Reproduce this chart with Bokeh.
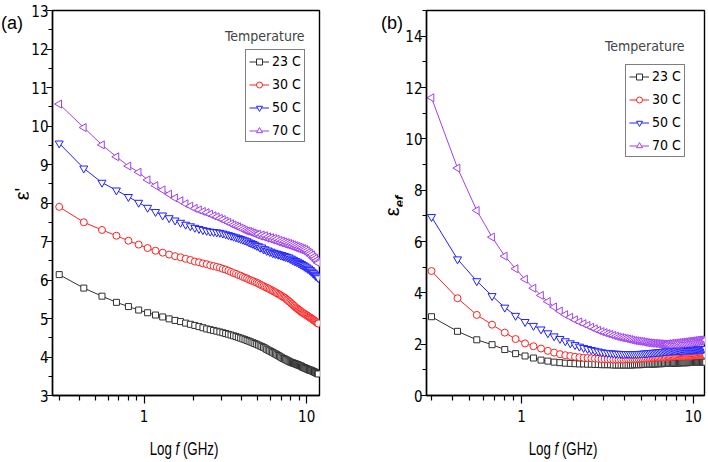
import math
from bokeh.plotting import figure
from bokeh.models import (Range1d, FixedTicker, PrintfTickFormatter, Label,
                          Legend, LegendItem, ColumnDataSource, Div)
from bokeh.layouts import row, column
from bokeh.embed import file_html
from bokeh.resources import INLINE

# ---------------- data ----------------
freq_ghz = [0.3, 0.425, 0.55, 0.675, 0.8, 0.925, 1.05, 1.175, 1.3, 1.425,
            1.55, 1.675, 1.8, 1.925, 2.05, 2.175, 2.3, 2.425, 2.55, 2.675,
            2.8, 2.925,
            3.05, 3.175, 3.3, 3.425, 3.55, 3.675, 3.8, 3.925, 4.05, 4.175,
            4.3, 4.425, 4.55, 4.675, 4.8, 4.925, 5.05, 5.175, 5.3, 5.425,
            5.55, 5.675, 5.8, 5.925, 6.05, 6.175, 6.3, 6.425, 6.55, 6.675,
            6.8, 6.925, 7.05, 7.175, 7.3, 7.425, 7.55, 7.675, 7.8, 7.925,
            8.05, 8.175, 8.3, 8.425, 8.55, 8.675, 8.8, 8.925, 9.05, 9.175,
            9.3, 9.425, 9.55, 9.675, 9.8, 9.925, 10.05, 10.175, 10.3, 10.425,
            10.55, 10.675, 10.8, 10.925, 11.05, 11.175, 11.3, 11.425, 11.55, 11.675,
            11.8]

temperatures = ["23 C", "30 C", "50 C", "70 C"]

# panel (a): epsilon'
eps_real_23 = [6.14, 5.79, 5.58, 5.42, 5.31, 5.22, 5.15, 5.09, 5.04, 4.99,
               4.95, 4.92, 4.88, 4.85, 4.82, 4.79, 4.76, 4.73, 4.71, 4.69,
               4.67, 4.65,
               4.63, 4.61, 4.59, 4.57, 4.55, 4.53, 4.51, 4.49, 4.47, 4.45,
               4.43, 4.41, 4.39, 4.37, 4.35, 4.33, 4.31, 4.29, 4.27, 4.25,
               4.23, 4.20, 4.18, 4.16, 4.14, 4.12, 4.10, 4.08, 4.06, 4.04,
               4.02, 4.00, 3.98, 3.96, 3.95, 3.93, 3.92, 3.90, 3.89, 3.87,
               3.86, 3.85, 3.84, 3.83, 3.82, 3.81, 3.80, 3.79, 3.78, 3.77,
               3.76, 3.74, 3.73, 3.72, 3.71, 3.70, 3.69, 3.68, 3.67, 3.66,
               3.66, 3.65, 3.64, 3.63, 3.62, 3.61, 3.60, 3.59, 3.58, 3.57,
               3.56]
eps_real_30 = [7.90, 7.50, 7.30, 7.15, 7.02, 6.92, 6.83, 6.76, 6.71, 6.66,
               6.62, 6.59, 6.55, 6.52, 6.48, 6.46, 6.43, 6.41, 6.38, 6.36,
               6.34, 6.32,
               6.29, 6.27, 6.24, 6.21, 6.18, 6.16, 6.13, 6.11, 6.08, 6.06,
               6.04, 6.01, 5.99, 5.97, 5.95, 5.93, 5.91, 5.88, 5.86, 5.84,
               5.82, 5.80, 5.78, 5.76, 5.74, 5.72, 5.70, 5.68, 5.66, 5.64,
               5.62, 5.60, 5.58, 5.56, 5.54, 5.52, 5.49, 5.47, 5.44, 5.42,
               5.39, 5.37, 5.34, 5.32, 5.29, 5.27, 5.25, 5.23, 5.21, 5.19,
               5.17, 5.15, 5.14, 5.12, 5.11, 5.09, 5.08, 5.06, 5.05, 5.03,
               5.02, 5.00, 4.99, 4.97, 4.96, 4.94, 4.93, 4.91, 4.90, 4.88,
               4.87]
eps_real_50 = [9.55, 8.90, 8.53, 8.33, 8.16, 8.01, 7.88, 7.77, 7.68, 7.61,
               7.55, 7.49, 7.44, 7.40, 7.36, 7.33, 7.30, 7.28, 7.26, 7.25,
               7.24, 7.23,
               7.21, 7.19, 7.17, 7.15, 7.13, 7.11, 7.09, 7.07, 7.05, 7.03,
               7.01, 6.98, 6.96, 6.94, 6.92, 6.89, 6.88, 6.84, 6.85, 6.80,
               6.80, 6.76, 6.77, 6.73, 6.74, 6.70, 6.71, 6.68, 6.69, 6.66,
               6.67, 6.64, 6.65, 6.62, 6.63, 6.60, 6.61, 6.58, 6.59, 6.55,
               6.56, 6.52, 6.53, 6.49, 6.50, 6.47, 6.48, 6.44, 6.45, 6.41,
               6.42, 6.38, 6.39, 6.35, 6.36, 6.32, 6.33, 6.29, 6.30, 6.26,
               6.26, 6.22, 6.22, 6.18, 6.18, 6.14, 6.14, 6.10, 6.10, 6.07,
               6.05]
eps_real_70 = [10.57, 9.96, 9.51, 9.20, 8.96, 8.80, 8.60, 8.45, 8.34, 8.23,
               8.13, 8.06, 7.98, 7.92, 7.86, 7.82, 7.78, 7.75, 7.71, 7.67,
               7.64, 7.60,
               7.57, 7.53, 7.50, 7.46, 7.43, 7.40, 7.38, 7.35, 7.32, 7.29,
               7.27, 7.26, 7.24, 7.22, 7.20, 7.18, 7.19, 7.14, 7.17, 7.12,
               7.15, 7.09, 7.12, 7.07, 7.10, 7.04, 7.08, 7.02, 7.06, 6.99,
               7.03, 6.97, 7.01, 6.95, 6.99, 6.93, 6.97, 6.91, 6.95, 6.89,
               6.93, 6.87, 6.91, 6.85, 6.89, 6.83, 6.87, 6.81, 6.85, 6.79,
               6.83, 6.77, 6.81, 6.75, 6.79, 6.73, 6.76, 6.70, 6.72, 6.66,
               6.69, 6.62, 6.65, 6.58, 6.60, 6.54, 6.56, 6.50, 6.51, 6.46,
               6.44]

# panel (b): epsilon_ef
eps_ef_23 = [3.07, 2.50, 2.17, 1.98, 1.79, 1.63, 1.54, 1.46, 1.38, 1.34,
             1.30, 1.28, 1.26, 1.25, 1.24, 1.23, 1.23, 1.22, 1.22, 1.21,
             1.21, 1.20,
             1.20, 1.20, 1.20, 1.19, 1.19, 1.19, 1.19, 1.19, 1.19, 1.19,
             1.19, 1.19, 1.20, 1.20, 1.20, 1.20, 1.21, 1.21, 1.21, 1.22,
             1.22, 1.22, 1.23, 1.23, 1.23, 1.24, 1.24, 1.24, 1.24, 1.25,
             1.25, 1.25, 1.25, 1.26, 1.26, 1.26, 1.26, 1.27, 1.27, 1.27,
             1.27, 1.27, 1.27, 1.28, 1.28, 1.28, 1.28, 1.28, 1.28, 1.28,
             1.28, 1.29, 1.29, 1.29, 1.29, 1.29, 1.29, 1.29, 1.29, 1.30,
             1.30, 1.30, 1.30, 1.30, 1.30, 1.30, 1.30, 1.30, 1.30, 1.30,
             1.30]
eps_ef_30 = [4.85, 3.79, 3.14, 2.76, 2.45, 2.20, 2.03, 1.92, 1.83, 1.74,
             1.67, 1.61, 1.57, 1.54, 1.51, 1.49, 1.47, 1.46, 1.45, 1.44,
             1.43, 1.42,
             1.42, 1.41, 1.41, 1.40, 1.40, 1.40, 1.40, 1.40, 1.41, 1.41,
             1.41, 1.42, 1.42, 1.42, 1.43, 1.43, 1.44, 1.44, 1.45, 1.45,
             1.46, 1.46, 1.47, 1.47, 1.48, 1.48, 1.49, 1.49, 1.49, 1.50,
             1.50, 1.50, 1.51, 1.51, 1.51, 1.51, 1.52, 1.52, 1.52, 1.53,
             1.53, 1.53, 1.53, 1.54, 1.54, 1.54, 1.54, 1.54, 1.54, 1.55,
             1.55, 1.55, 1.55, 1.55, 1.55, 1.56, 1.56, 1.56, 1.56, 1.57,
             1.57, 1.57, 1.57, 1.58, 1.58, 1.58, 1.58, 1.59, 1.59, 1.59,
             1.59]
eps_ef_50 = [6.96, 5.31, 4.46, 3.88, 3.43, 3.11, 2.87, 2.72, 2.58, 2.43,
             2.31, 2.21, 2.12, 2.04, 1.97, 1.91, 1.86, 1.82, 1.78, 1.75,
             1.72, 1.69,
             1.67, 1.66, 1.65, 1.64, 1.63, 1.63, 1.62, 1.62, 1.62, 1.62,
             1.62, 1.62, 1.62, 1.62, 1.62, 1.63, 1.63, 1.64, 1.64, 1.65,
             1.66, 1.66, 1.67, 1.67, 1.68, 1.68, 1.69, 1.70, 1.70, 1.71,
             1.72, 1.72, 1.73, 1.73, 1.74, 1.74, 1.75, 1.75, 1.75, 1.75,
             1.76, 1.76, 1.76, 1.76, 1.77, 1.77, 1.77, 1.77, 1.77, 1.78,
             1.78, 1.78, 1.78, 1.78, 1.78, 1.79, 1.79, 1.79, 1.79, 1.80,
             1.80, 1.80, 1.80, 1.81, 1.81, 1.81, 1.81, 1.82, 1.82, 1.82,
             1.82]
eps_ef_70 = [11.60, 8.86, 7.21, 6.17, 5.43, 4.94, 4.53, 4.18, 3.90, 3.66,
             3.45, 3.29, 3.15, 3.05, 2.95, 2.87, 2.80, 2.73, 2.66, 2.60,
             2.54, 2.49,
             2.45, 2.41, 2.38, 2.34, 2.31, 2.28, 2.26, 2.24, 2.22, 2.20,
             2.18, 2.16, 2.14, 2.13, 2.12, 2.11, 2.10, 2.08, 2.07, 2.06,
             2.05, 2.04, 2.04, 2.03, 2.03, 2.02, 2.02, 2.01, 2.01, 2.00,
             2.00, 2.00, 2.00, 2.02, 1.99, 2.03, 2.00, 2.04, 2.00, 2.05,
             2.01, 2.06, 2.02, 2.07, 2.02, 2.08, 2.03, 2.09, 2.04, 2.10,
             2.05, 2.11, 2.06, 2.12, 2.07, 2.13, 2.08, 2.14, 2.09, 2.15,
             2.10, 2.16, 2.11, 2.16, 2.12, 2.17, 2.13, 2.17, 2.14, 2.17,
             2.16]

x_major = [1, 10]
x_minor = [0.3, 0.4, 0.5, 0.6, 0.7, 0.8, 0.9, 2, 3, 4, 5, 6, 7, 8, 9]
ya_major = [3, 4, 5, 6, 7, 8, 9, 10, 11, 12, 13]
ya_minor = [3.5, 4.5, 5.5, 6.5, 7.5, 8.5, 9.5, 10.5, 11.5, 12.5]
yb_major = [0, 2, 4, 6, 8, 10, 12, 14]
yb_minor = [1, 3, 5, 7, 9, 11, 13, 15]

# ---------------- style ----------------
NARROW = ("Liberation Sans Narrow, Arial Narrow, DejaVu Sans Condensed, "
          "Roboto Condensed, Liberation Sans, sans-serif")
CSS_FONT = "'Liberation Sans', Arial, sans-serif"
colors = ["#303030", "#ff2020", "#2020ff", "#a040f0"]
markers = ["square", "circle", "inverted_triangle", "triangle"]
msizes = [6, 7, 8, 8]
angles_deg = [0, 0, 0, 90]   # 70 C: triangle pointing left
H_TOP = 430


def build(series, xr, yr, ymaj, ymin, width, mbl, mbr, mbt, mbb,
          leg_loc, title_xy):
    p = figure(width=width, height=H_TOP, x_axis_type="log",
               x_range=Range1d(*xr), y_range=Range1d(*yr),
               output_backend="svg", toolbar_location=None,
               min_border_left=mbl, min_border_right=mbr,
               min_border_top=mbt, min_border_bottom=mbb)
    p.grid.visible = False
    p.outline_line_color = "black"
    p.outline_line_width = 1.4
    p.background_fill_color = "white"
    p.border_fill_color = "white"

    xa = p.xaxis[0]
    xa.ticker = FixedTicker(ticks=x_major, minor_ticks=x_minor)
    xa.formatter = PrintfTickFormatter(format="%d")
    xa.major_tick_out = 8
    xa.major_tick_in = 0
    xa.minor_tick_out = 5
    xa.minor_tick_in = 0
    xa.major_label_standoff = 6

    ya = p.yaxis[0]
    ya.ticker = FixedTicker(ticks=ymaj, minor_ticks=ymin)
    ya.major_tick_out = 6
    ya.major_tick_in = 0
    ya.minor_tick_out = 4
    ya.minor_tick_in = 0
    ya.major_label_standoff = -2

    for ax in (xa, ya):
        ax.axis_line_width = 1.4
        ax.axis_line_color = "black"
        ax.major_tick_line_color = "black"
        ax.minor_tick_line_color = "black"
        ax.major_tick_line_width = 1.2
        ax.minor_tick_line_width = 1.2
        ax.major_label_text_font = NARROW
        ax.major_label_text_font_size = "15px"
        ax.major_label_text_color = "black"

    items = []
    for vals, name, col, mk, ms, ang in zip(series, temperatures, colors,
                                            markers, msizes, angles_deg):
        src = ColumnDataSource(dict(f=freq_ghz, v=vals,
                                    a=[ang] * len(freq_ghz)))
        lr = p.line("f", "v", source=src, line_color=col, line_width=1)
        sr = p.scatter("f", "v", source=src, marker=mk, size=ms,
                       angle="a", angle_units="deg",
                       line_color=col, fill_color="white", line_width=1)
        items.append(LegendItem(label=name, renderers=[lr, sr]))

    leg = Legend(items=items, location=leg_loc, orientation="vertical",
                 glyph_width=20, glyph_height=15, label_height=15,
                 label_standoff=3, spacing=7, padding=3, margin=0,
                 label_text_font=NARROW, label_text_font_size="14px",
                 label_text_color="black",
                 border_line_color="black", border_line_width=1,
                 background_fill_color="white", background_fill_alpha=1)
    p.add_layout(leg)

    p.add_layout(Label(x=title_xy[0], y=title_xy[1], x_units="screen",
                       y_units="screen", text="Temperature",
                       text_font=NARROW, text_font_size="14px",
                       text_baseline="middle", text_align="right"))
    return p


pa = build([eps_real_23, eps_real_30, eps_real_50, eps_real_70],
           (0.2728, 12.0), (3, 13), ya_major, ya_minor,
           350, 21, 59, 8, 35,
           (193, 253), (252, 360))

pb = build([eps_ef_23, eps_ef_30, eps_ef_50, eps_ef_70],
           (0.2805, 11.61), (0, 15), yb_major, yb_minor,
           306, 20, 4, 10, 35,
           (199, 238), (258, 350))

span = ("position:absolute;white-space:nowrap;line-height:1;color:black;")

div_a = Div(width=28, height=H_TOP, margin=(0, 0, 0, 0), text=(
    '<div style="position:relative;width:28px;height:%dpx;">' % H_TOP +
    '<span style="%sleft:1px;top:14px;font-size:18px;font-family:%s;">(a)</span>'
    % (span, CSS_FONT) +
    '<span style="%sleft:22px;top:194px;transform:translate(-50%%,-50%%) '
    'rotate(-90deg);font-size:20px;font-family:%s;">&epsilon;\'</span>'
    % (span, CSS_FONT) +
    '</div>'))

div_b = Div(width=24, height=H_TOP, margin=(0, 0, 0, 0), text=(
    '<div style="position:relative;width:24px;height:%dpx;">' % H_TOP +
    '<span style="%sleft:3px;top:14px;font-size:18px;font-family:%s;">(b)</span>'
    % (span, CSS_FONT) +
    '<span style="%sleft:16px;top:206px;transform:translate(-50%%,-50%%) '
    'rotate(-90deg);font-size:20px;font-family:%s;">&epsilon;'
    '<sub style="font-size:13px;font-style:italic;font-weight:bold;">ef</sub></span>'
    % (span, CSS_FONT) +
    '</div>'))

xlab = ('<span style="%sleft:%dpx;top:18px;transform:translate(-50%%,-50%%) '
        'scaleX(0.7);font-size:19px;font-family:%s;">Log <i>f</i> (GHz)</span>')
div_x = Div(width=708, height=30, margin=(0, 0, 0, 0), text=(
    '<div style="position:relative;width:708px;height:30px;">' +
    xlab % (span, 184, CSS_FONT) + xlab % (span, 563, CSS_FONT) +
    '</div>'))

layout = column(row(div_a, pa, div_b, pb), div_x)
open("out.html", "w").write(file_html(layout, INLINE))
